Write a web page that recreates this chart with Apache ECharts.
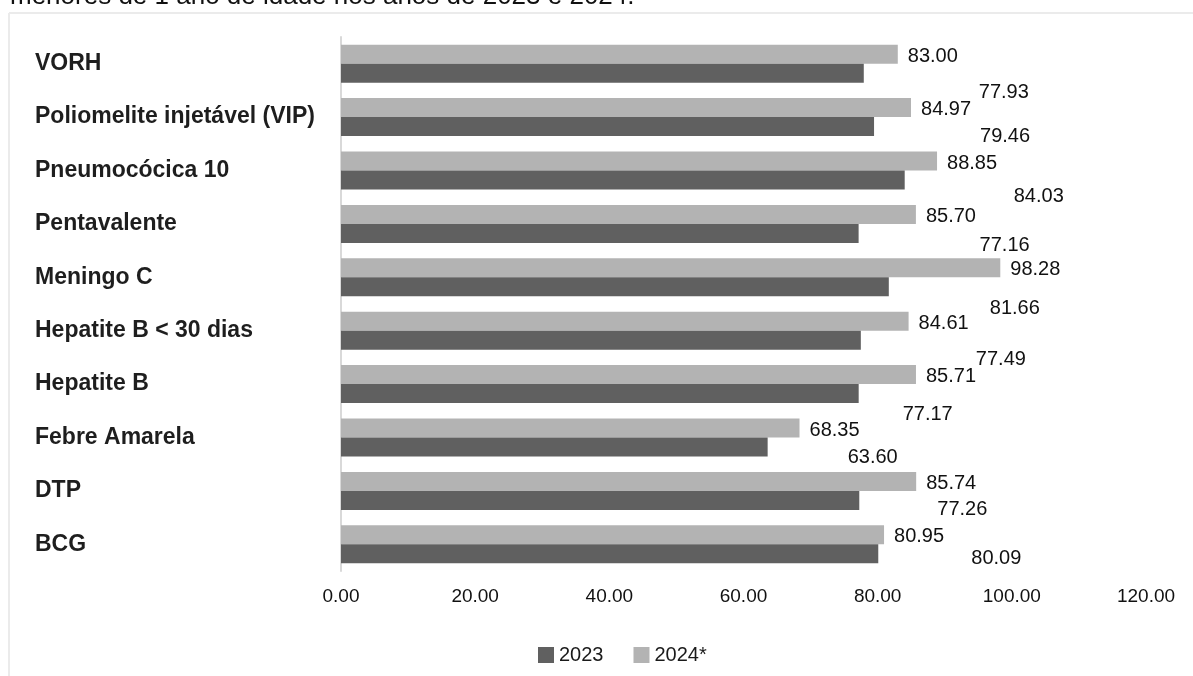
<!DOCTYPE html>
<html>
<head>
<meta charset="utf-8">
<title>Cobertura vacinal</title>
<script src="https://cdn.jsdelivr.net/npm/echarts@6/dist/echarts.min.js"></script>
<style>
  html, body { margin: 0; padding: 0; background: #ffffff; }
  #chart { width: 1193px; height: 676px; }
</style>
</head>
<body>
<div id="chart"></div>
<script>
// Vaccines, listed top to bottom
const categories = [
  'VORH',
  'Poliomelite injetável (VIP)',
  'Pneumocócica 10',
  'Pentavalente',
  'Meningo C',
  'Hepatite B < 30 dias',
  'Hepatite B',
  'Febre Amarela',
  'DTP',
  'BCG'
];

// Coverage (%) per year
const values2023 = [77.93, 79.46, 84.03, 77.16, 81.66, 77.49, 77.17, 63.60, 77.26, 80.09];
const values2024 = [83.00, 84.97, 88.85, 85.70, 98.28, 84.61, 85.71, 68.35, 85.74, 80.95];

// x-axis ticks
const xTicks = [0, 20, 40, 60, 80, 100, 120];

// extra shift [dx, dy] of each 2023 value label away from its bar end
const labelNudge2023 = [
  [105, 19], [96, 10], [99, 16], [111, 12], [91, 22],
  [105, 19], [34, 21], [70, 10], [68, 9], [83, 5]
];

const fmt = v => Number(v).toFixed(2);
const FONT = 'Liberation Sans, Arial, sans-serif';

const chart = echarts.init(document.getElementById('chart'), null, { renderer: 'canvas' });

const option = {
  backgroundColor: '#ffffff',
  animation: false,
  textStyle: { fontFamily: FONT },
  graphic: [
    {
      type: 'text',
      left: 10,
      top: -16,
      style: {
        text: 'menores de 1 ano de idade nos anos de 2023 e 2024.',
        fontSize: 26,
        fontFamily: FONT,
        fill: '#111111'
      }
    },
    {
      type: 'line',
      shape: { x1: 9, y1: 13, x2: 1193, y2: 13 },
      style: { stroke: '#ebebeb', lineWidth: 2 }
    },
    {
      type: 'line',
      shape: { x1: 9, y1: 13, x2: 9, y2: 676 },
      style: { stroke: '#ebebeb', lineWidth: 2 }
    }
  ],
  legend: {
    data: ['2023', '2024*'],
    left: 533,
    top: 640,
    itemWidth: 16,
    itemHeight: 16,
    itemGap: 30,
    icon: 'rect',
    textStyle: { fontSize: 20, color: '#1a1a1a', fontFamily: FONT }
  },
  grid: {
    left: 341,
    right: 47,
    top: 37,
    bottom: 105,
    containLabel: false
  },
  xAxis: {
    type: 'value',
    min: xTicks[0],
    max: xTicks[xTicks.length - 1],
    interval: xTicks[1] - xTicks[0],
    axisLine: { show: false },
    axisTick: { show: false },
    splitLine: { show: false },
    axisLabel: {
      formatter: fmt,
      margin: 16,
      fontSize: 19,
      color: '#111111'
    }
  },
  yAxis: {
    type: 'category',
    data: categories,
    inverse: true,
    axisLine: { show: true, lineStyle: { color: '#d9d9d9', width: 2 } },
    axisTick: { show: false },
    splitLine: { show: false },
    axisLabel: {
      align: 'left',
      margin: 306,
      fontSize: 23,
      fontWeight: 'bold',
      color: '#1e1e1e'
    }
  },
  series: [
    {
      name: '2024*',
      type: 'bar',
      barWidth: 19,
      barGap: '0%',
      itemStyle: { color: '#b3b3b3' },
      data: values2024,
      label: {
        show: true,
        position: 'right',
        distance: 10,
        offset: [0, 2],
        formatter: p => fmt(p.value),
        fontSize: 20,
        color: '#111111'
      }
    },
    {
      name: '2023',
      type: 'bar',
      barWidth: 19,
      barGap: '0%',
      itemStyle: { color: '#606060' },
      data: values2023.map((v, i) => ({
        value: v,
        label: { offset: labelNudge2023[i] }
      })),
      label: {
        show: true,
        position: 'right',
        distance: 10,
        formatter: p => fmt(p.value),
        fontSize: 20,
        color: '#111111'
      }
    }
  ]
};

chart.setOption(option);
</script>
</body>
</html>
